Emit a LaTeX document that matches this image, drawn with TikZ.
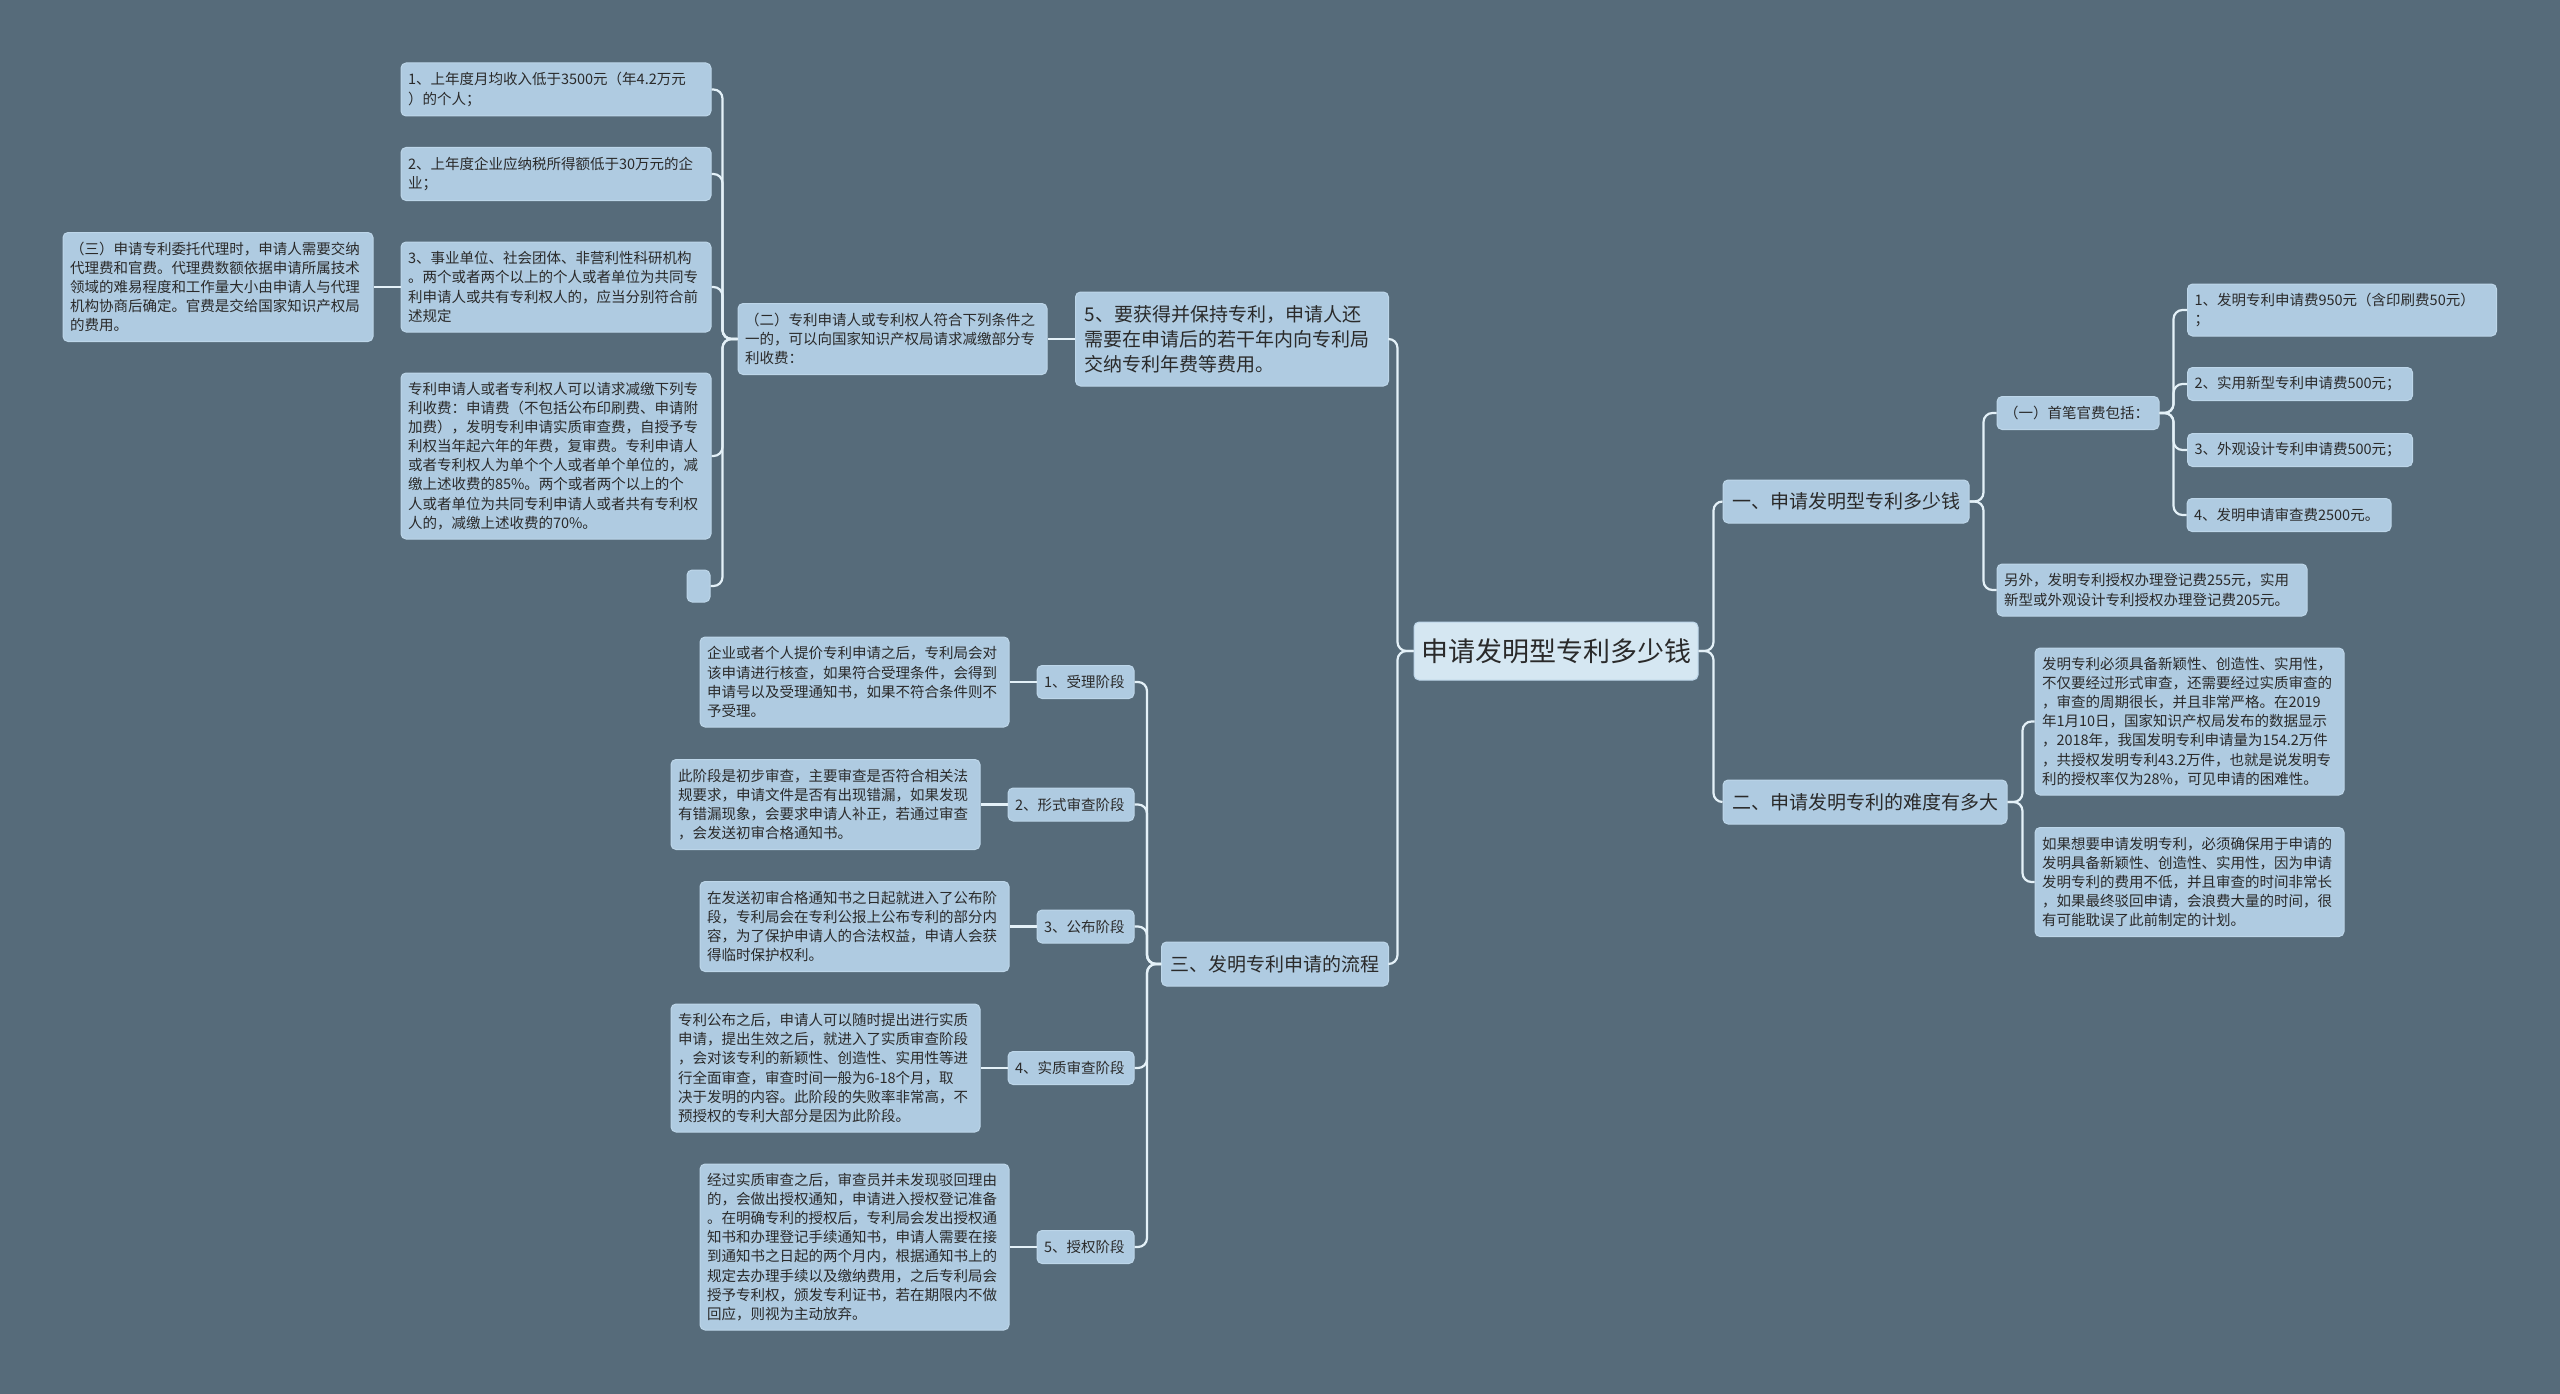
\documentclass[tikz,border=0pt]{standalone}
\usepackage{fontspec}
\setmainfont{Noto Sans CJK SC}
\usepackage{tikz}
\usetikzlibrary{positioning}
\definecolor{bgc}{HTML}{566B7A}
\definecolor{boxfill}{HTML}{AFCBE1}
\definecolor{boxdraw}{HTML}{BDD6E9}
\definecolor{rootfill}{HTML}{D5E7F2}
\definecolor{linkc}{HTML}{E4F1F8}
\definecolor{txt}{HTML}{2A2A2A}
\begin{document}
\begin{tikzpicture}[x=1pt,y=-1pt,
  link/.style={draw=linkc,line width=2.2pt,rounded corners=9pt},
  box/.style={draw=boxdraw,line width=1pt,fill=boxfill,rounded corners=5pt,align=left,inner xsep=7pt,inner ysep=0pt,text=txt},
  leaf/.style={box,font=\fontsize{14.5pt}{19.1pt}\selectfont},
  mainbox/.style={box,inner xsep=9pt,font=\fontsize{19pt}{25pt}\selectfont},
  rootbox/.style={box,fill=rootfill,align=center,font=\fontsize{27pt}{34pt}\selectfont}]
\fill[bgc] (0,0) rectangle (2560,1394);
\useasboundingbox (0,0) rectangle (2560,1394);
\node[rootbox,minimum width=278pt,minimum height=58pt] (root) at (1556,651) {申请发明型专利多少钱};
\node[mainbox,text width=295pt,minimum height=94pt] (keep) at (1232,339) {5、要获得并保持专利，申请人还\\需要在申请后的若干年内向专利局\\交纳专利年费等费用。};
\node[leaf,text width=295pt,minimum height=71pt] (cut) at (892.5,339) {（二）专利申请人或专利权人符合下列条件之\\一的，可以向国家知识产权局请求减缴部分专\\利收费：};
\node[leaf,text width=296pt,minimum height=53pt] (cut1) at (556,89.5) {1、上年度月均收入低于3500元（年4.2万元\\）的个人；};
\node[leaf,text width=296pt,minimum height=53pt] (cut2) at (556,174) {2、上年度企业应纳税所得额低于30万元的企\\业；};
\node[leaf,text width=296pt,minimum height=90pt] (cut3) at (556,287) {3、事业单位、社会团体、非营利性科研机构\\。两个或者两个以上的个人或者单位为共同专\\利申请人或共有专利权人的，应当分别符合前\\述规定};
\node[leaf,text width=296pt,minimum height=166pt] (cut4) at (556,456) {专利申请人或者专利权人可以请求减缴下列专\\利收费：申请费（不包括公布印刷费、申请附\\加费），发明专利申请实质审查费，自授予专\\利权当年起六年的年费，复审费。专利申请人\\或者专利权人为单个个人或者单个单位的，减\\缴上述收费的85\%。两个或者两个以上的个\\人或者单位为共同专利申请人或者共有专利权\\人的，减缴上述收费的70\%。};
\node[leaf,text width=9pt,minimum height=32pt] (cut5) at (698.5,586) {};
\node[leaf,text width=296pt,minimum height=109pt] (agent) at (218,287) {（三）申请专利委托代理时，申请人需要交纳\\代理费和官费。代理费数额依据申请所属技术\\领域的难易程度和工作量大小由申请人与代理\\机构协商后确定。官费是交给国家知识产权局\\的费用。};
\node[mainbox,minimum width=226pt,minimum height=44pt] (proc) at (1275,964) {三、发明专利申请的流程};
\node[leaf,text width=83pt,minimum height=33pt] (st1) at (1085.5,682) {1、受理阶段};
\node[leaf,text width=295pt,minimum height=90pt] (sd1) at (854.5,682) {企业或者个人提价专利申请之后，专利局会对\\该申请进行核查，如果符合受理条件，会得到\\申请号以及受理通知书，如果不符合条件则不\\予受理。};
\node[leaf,text width=112pt,minimum height=33pt] (st2) at (1071,804.5) {2、形式审查阶段};
\node[leaf,text width=295pt,minimum height=90pt] (sd2) at (825.5,804.5) {此阶段是初步审查，主要审查是否符合相关法\\规要求，申请文件是否有出现错漏，如果发现\\有错漏现象，会要求申请人补正，若通过审查\\，会发送初审合格通知书。};
\node[leaf,text width=83pt,minimum height=33pt] (st3) at (1085.5,926.5) {3、公布阶段};
\node[leaf,text width=295pt,minimum height=90pt] (sd3) at (854.5,926.5) {在发送初审合格通知书之日起就进入了公布阶\\段，专利局会在专利公报上公布专利的部分内\\容，为了保护申请人的合法权益，申请人会获\\得临时保护权利。};
\node[leaf,text width=112pt,minimum height=33pt] (st4) at (1071,1068) {4、实质审查阶段};
\node[leaf,text width=295pt,minimum height=128pt] (sd4) at (825.5,1068) {专利公布之后，申请人可以随时提出进行实质\\申请，提出生效之后，就进入了实质审查阶段\\，会对该专利的新颖性、创造性、实用性等进\\行全面审查，审查时间一般为6-18个月，取\\决于发明的内容。此阶段的失败率非常高，不\\预授权的专利大部分是因为此阶段。};
\node[leaf,text width=83pt,minimum height=33pt] (st5) at (1085.5,1247) {5、授权阶段};
\node[leaf,text width=295pt,minimum height=166pt] (sd5) at (854.5,1247) {经过实质审查之后，审查员并未发现驳回理由\\的，会做出授权通知，申请进入授权登记准备\\。在明确专利的授权后，专利局会发出授权通\\知书和办理登记手续通知书，申请人需要在接\\到通知书之日起的两个月内，根据通知书上的\\规定去办理手续以及缴纳费用，之后专利局会\\授予专利权，颁发专利证书，若在期限内不做\\回应，则视为主动放弃。};
\node[mainbox,minimum width=245pt,minimum height=43pt] (cost) at (1846,501.5) {一、申请发明型专利多少钱};
\node[leaf,text width=148pt,minimum height=33pt] (first) at (2078,413) {（一）首笔官费包括：};
\node[leaf,text width=295pt,minimum height=52pt] (fee1) at (2342,310) {1、发明专利申请费950元（含印刷费50元）\\；};
\node[leaf,text width=211pt,minimum height=33pt] (fee2) at (2300,384) {2、实用新型专利申请费500元；};
\node[leaf,text width=211pt,minimum height=33pt] (fee3) at (2300,450) {3、外观设计专利申请费500元；};
\node[leaf,text width=190pt,minimum height=33pt] (fee4) at (2289,515) {4、发明申请审查费2500元。};
\node[leaf,text width=296pt,minimum height=52pt] (reg) at (2152,590) {另外，发明专利授权办理登记费255元，实用\\新型或外观设计专利授权办理登记费205元。};
\node[mainbox,minimum width=284pt,minimum height=44pt] (hard) at (1865,802) {二、申请发明专利的难度有多大};
\node[leaf,text width=295pt,minimum height=147pt] (hd1) at (2189.5,721.5) {发明专利必须具备新颖性、创造性、实用性，\\不仅要经过形式审查，还需要经过实质审查的\\，审查的周期很长，并且非常严格。在2019\\年1月10日，国家知识产权局发布的数据显示\\，2018年，我国发明专利申请量为154.2万件\\，共授权发明专利43.2万件，也就是说发明专\\利的授权率仅为28\%，可见申请的困难性。};
\node[leaf,text width=295pt,minimum height=109pt] (hd2) at (2189.5,882) {如果想要申请发明专利，必须确保用于申请的\\发明具备新颖性、创造性、实用性，因为申请\\发明专利的费用不低，并且审查的时间非常长\\，如果最终驳回申请，会浪费大量的时间，很\\有可能耽误了此前制定的计划。};
\draw[link] (root.west)--++(-16,0)|-(keep.east);
\draw[link] (root.west)--++(-16,0)|-(proc.east);
\draw[link] (keep.west)--(cut.east);
\draw[link] (cut.west)--++(-15,0)|-(cut1.east);
\draw[link] (cut.west)--++(-15,0)|-(cut2.east);
\draw[link] (cut.west)--++(-15,0)|-(cut3.east);
\draw[link] (cut.west)--++(-15,0)|-(cut4.east);
\draw[link] (cut.west)--++(-15,0)|-(cut5.east);
\draw[link] (cut3.west)--(agent.east);
\draw[link] (proc.west)--++(-14,0)|-(st1.east);
\draw[link] (proc.west)--++(-14,0)|-(st2.east);
\draw[link] (proc.west)--++(-14,0)|-(st3.east);
\draw[link] (proc.west)--++(-14,0)|-(st4.east);
\draw[link] (proc.west)--++(-14,0)|-(st5.east);
\draw[link] (st1.west)--(sd1.east);
\draw[link] (st2.west)--(sd2.east);
\draw[link] (st3.west)--(sd3.east);
\draw[link] (st4.west)--(sd4.east);
\draw[link] (st5.west)--(sd5.east);
\draw[link] (root.east)--++(15,0)|-(cost.west);
\draw[link] (root.east)--++(15,0)|-(hard.west);
\draw[link] (cost.east)--++(14,0)|-(first.west);
\draw[link] (cost.east)--++(14,0)|-(reg.west);
\draw[link] (first.east)--++(14,0)|-(fee1.west);
\draw[link] (first.east)--++(14,0)|-(fee2.west);
\draw[link] (first.east)--++(14,0)|-(fee3.west);
\draw[link] (first.east)--++(14,0)|-(fee4.west);
\draw[link] (hard.east)--++(15,0)|-(hd1.west);
\draw[link] (hard.east)--++(15,0)|-(hd2.west);
\end{tikzpicture}
\end{document}
